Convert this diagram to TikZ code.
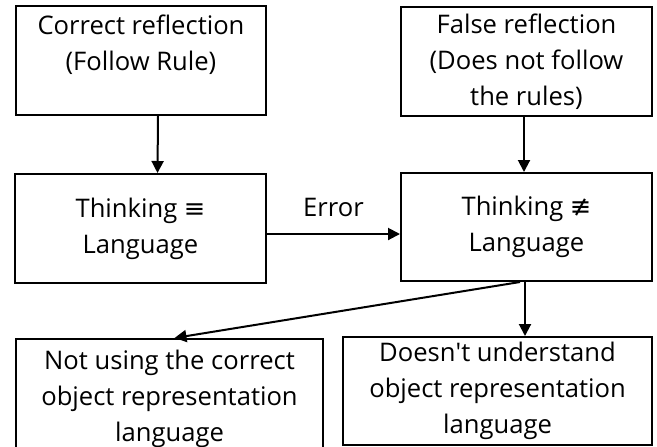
\documentclass[tikz,border=0pt]{standalone}
\usepackage{fontspec}
\setmainfont{Open Sans}
\newfontfamily\symfont{DejaVu Sans}
\usetikzlibrary{arrows.meta}

\tikzset{
  flowbox/.style={draw, line width=1pt, rectangle, align=center,
    inner sep=0pt, font=\fontsize{12.8}{18}\selectfont},
  flowarrow/.style={line width=1pt, -{Triangle[length=6pt,width=6pt]}}
}

\begin{document}
\begin{tikzpicture}[x=0.5pt,y=-0.5pt]
  \useasboundingbox
    (0,0)
    rectangle
    (657,446);
% top row
  \node[flowbox, minimum width=125pt, minimum height=54.5pt] (correct)
    at (141,60.5)
    {Correct reflection\\(Follow Rule)\\\mbox{}};
  \node[flowbox, minimum width=125.5pt, minimum height=54.5pt] (false)
    at (526.5,61.5)
    {False reflection\\(Does not follow\\the rules)};
% middle row
  \node[flowbox, minimum width=125.5pt, minimum height=54.5pt] (equiv)
    at (140.5,228.5)
    {Thinking {\symfont ≡}\\Language};
  \node[flowbox, minimum width=125.5pt, minimum height=54pt] (notequiv)
    at (526.5,227)
    {Thinking {\symfont ≢}\\Language};
% bottom row
  \node[flowbox, minimum width=153.5pt, minimum height=60pt] (notusing)
    at (169.5,399)
    {Not using the correct\\object representation\\language};
  \node[flowbox, minimum width=154.5pt, minimum height=54pt] (notunderstand)
    at (497.5,391)
    {Doesn\textquotesingle t understand\\object representation\\language};
% arrows
  \draw[flowarrow]
    ([xshift=8.5pt]correct.south)
    --
    ([xshift=8.5pt]equiv.north);
  \draw[flowarrow]
    ([xshift=-1.25pt]false.south)
    --
    ([xshift=-1.25pt]notequiv.north);
  \draw[flowarrow]
    ([yshift=-2.75pt]equiv.east)
    --
    node[above=5pt, font=\fontsize{12.8}{18}\selectfont] (errorlabel) {Error}
    ([yshift=-2.75pt]equiv.east -| notequiv.west);
  \draw[flowarrow]
    ([xshift=-3.25pt]notequiv.south)
    --
    ([xshift=2.5pt]notusing.north);
  \draw[flowarrow]
    ([xshift=-0.75pt]notequiv.south)
    --
    ([xshift=13.75pt]notunderstand.north);
\end{tikzpicture}
\end{document}
